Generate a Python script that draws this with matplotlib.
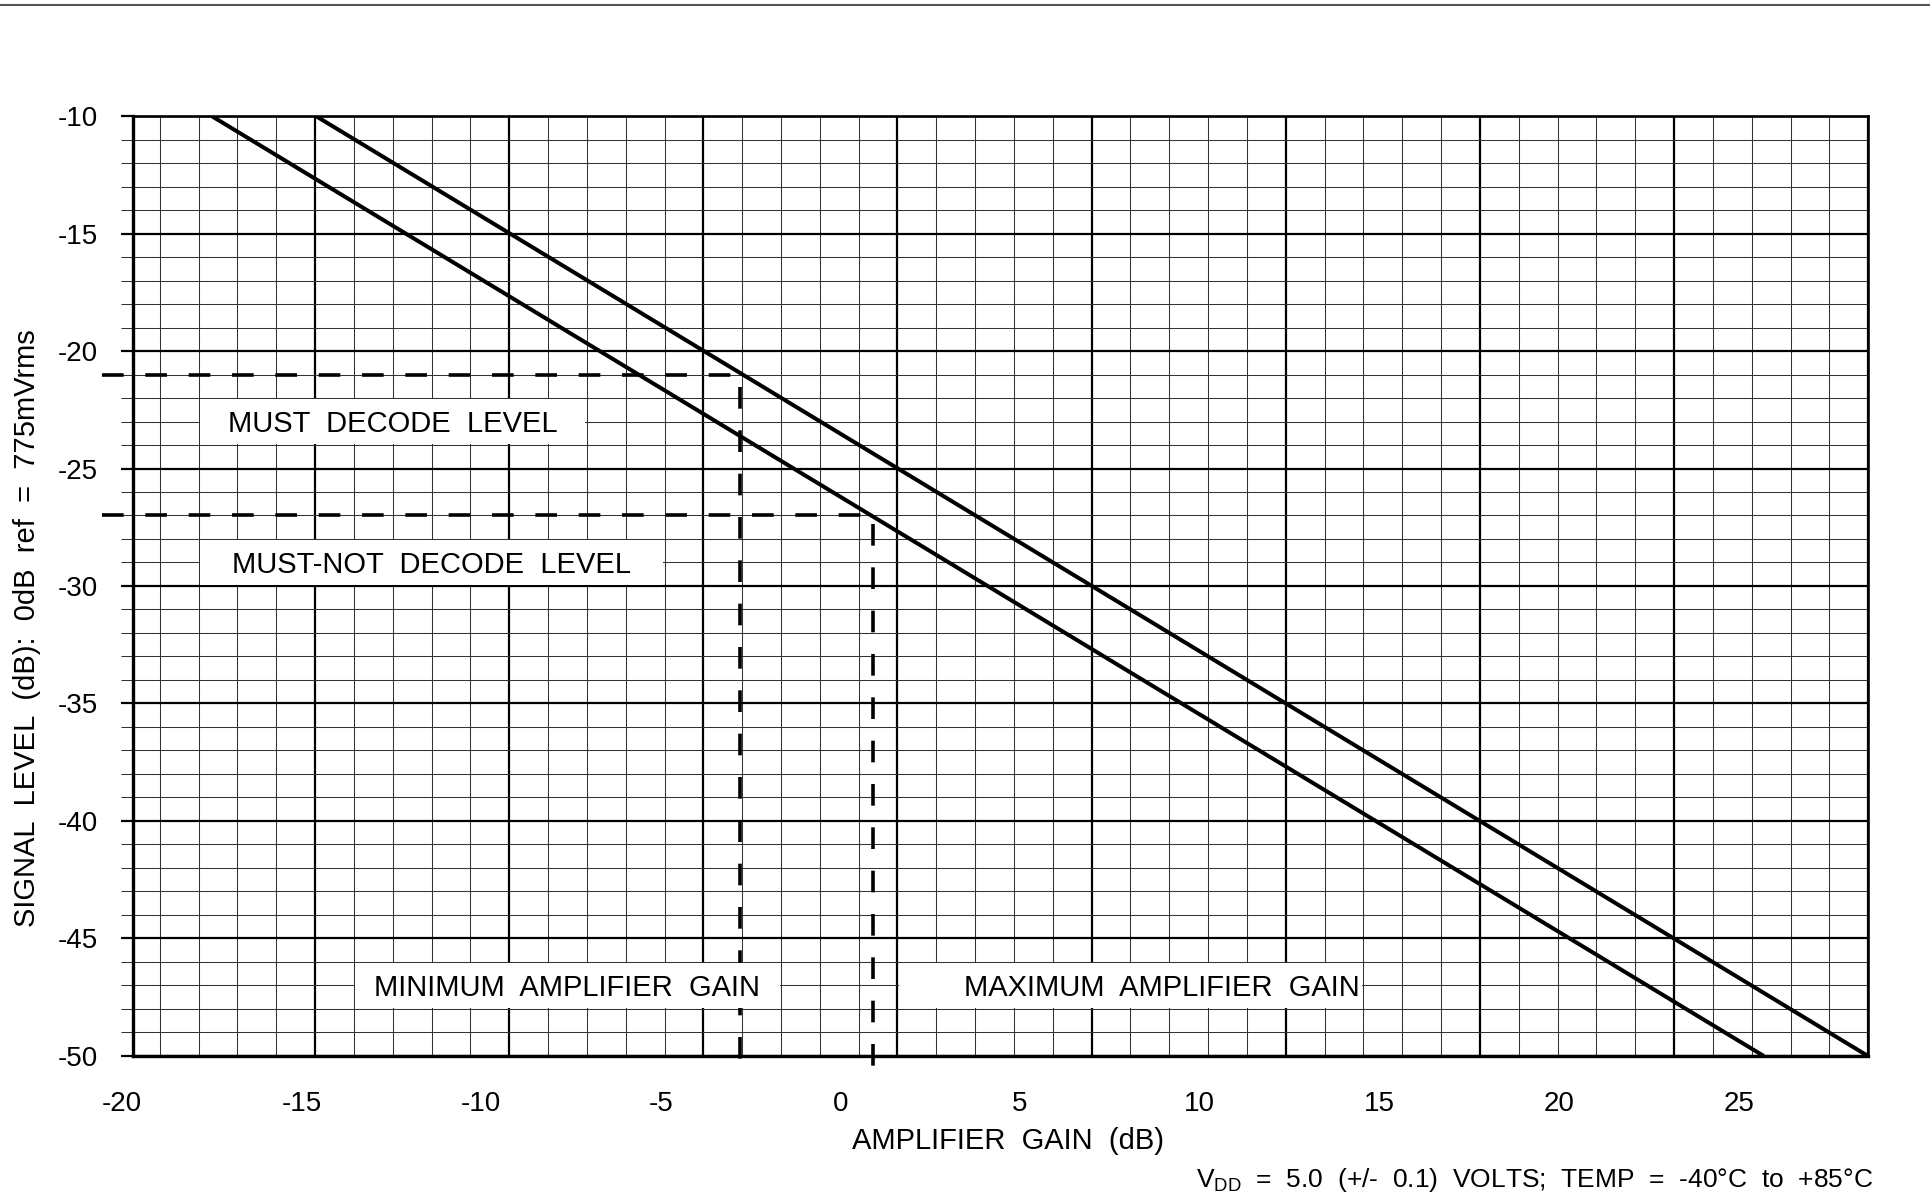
import numpy as np
import matplotlib
matplotlib.use("Agg")
import matplotlib.pyplot as plt
from matplotlib.lines import Line2D
from matplotlib.patches import Rectangle

plt.rcParams['font.family'] = ['Liberation Sans', 'DejaVu Sans']
plt.rcParams['axes.unicode_minus'] = False
plt.rcParams['mathtext.fontset'] = 'custom'
plt.rcParams['mathtext.rm'] = 'Liberation Sans'

# Values (gain in dB as printed on the x axis)
gain_ticks = [-20, -15, -10, -5, 0, 5, 10, 15, 20, 25]
level_ticks = [-10, -15, -20, -25, -30, -35, -40, -45, -50]

upper_gain = [-14.6, 28.6]
upper_level = [-10, -50]
lower_gain = [-17.5, 25.7]
lower_level = [-10, -50]

must_decode = -21
must_not_decode = -27
min_gain = -2.8
max_gain = 0.9

# the printed grid has its own pitch, it does not line up with the labels
grid_first_major = -14.62
grid_step = 1.0807
x_min, x_max = -19.69, 28.61
y_min, y_max = -50, -10

# text boxes: label, grid cell from / to (counted from first major), level top / bottom
boxes = [
    ("MUST  DECODE  LEVEL", -3, 7, -22, -24, 'center'),
    ("MUST-NOT  DECODE  LEVEL", -3, 9, -28, -30, 'center'),
    ("MINIMUM  AMPLIFIER  GAIN", 1, 12, -46, -48, 'center'),
    ("MAXIMUM  AMPLIFIER  GAIN", 15, 27, -46, -48, 'right'),
]

fig = plt.figure(figsize=(19.3, 11.99), dpi=100)
ax = fig.add_axes([0.06886, 0.11927, 0.89917, 0.78398])
ax.set_xlim(x_min, x_max)
ax.set_ylim(y_min, y_max)

# grid
k = np.arange(-4, 41)
ax.set_xticks(grid_first_major + grid_step * k[k % 5 == 0])
ax.set_xticks(grid_first_major + grid_step * k, minor=True)
ax.tick_params(axis='x', which='both', length=0, labelbottom=False)
ax.set_yticks(level_ticks, labels=[str(v) for v in level_ticks])
ax.set_yticks(np.arange(-50, -9, 1), minor=True)
ax.tick_params(axis='y', which='both', direction='out', length=9, pad=16,
               labelsize=20)
ax.tick_params(axis='y', which='major', width=1.6, color='black')
ax.tick_params(axis='y', which='minor', width=0.75, color='#333333')
ax.grid(which='major', color='black', lw=1.6)
ax.grid(which='minor', color='#333333', lw=0.75)

# gain labels (the -20 one sits just left of the frame)
for g in gain_ticks:
    ax.text(g, -0.0369, str(g), transform=ax.get_xaxis_transform(),
            ha='center', va='top', fontsize=20)

for side in ['left', 'bottom']:
    ax.spines[side].set_linewidth(2.4)
for side in ['top', 'right']:
    ax.spines[side].set_linewidth(1.9)
for s in ax.spines.values():
    s.set_zorder(2.5)

# levels and amplifier gain limits
dash_left = -20.55
dash_bottom = -51.0
ax.plot([dash_left, min_gain, min_gain], [must_decode, must_decode, dash_bottom],
        color='black', lw=2.6, dashes=(6, 6), clip_on=False, zorder=1.8)
ax.plot([dash_left, max_gain, max_gain], [must_not_decode, must_not_decode, dash_bottom],
        color='black', lw=2.6, dashes=(6, 6), clip_on=False, zorder=1.8)

# the two limit lines
ax.plot(upper_gain, upper_level, color='black', lw=2.9, solid_capstyle='butt', zorder=3)
ax.plot(lower_gain, lower_level, color='black', lw=2.9, solid_capstyle='butt', zorder=3)

# white label boxes cut out of the grid
cap_half = 0.45
for label, c0, c1, top, bot, ha in boxes:
    x0 = grid_first_major + grid_step * c0
    x1 = grid_first_major + grid_step * c1
    ax.add_patch(Rectangle((x0 + 0.04, bot + 0.05), x1 - x0 - 0.08, top - bot - 0.1,
                           facecolor='white', edgecolor='none', zorder=2))
    yc = (top + bot) / 2 - cap_half
    if ha == 'right':
        ax.text(x1 - 0.1, yc, label, ha='right', va='baseline', fontsize=21, zorder=4)
    else:
        ax.text((x0 + x1) / 2, yc, label, ha='center', va='baseline', fontsize=21, zorder=4)

fig.text(27 / 1930, 1 - 628 / 1199, "SIGNAL  LEVEL  (dB):  0dB  ref  =  775mVrms",
         rotation=90, ha='center', va='center', fontsize=21)
fig.text(1008 / 1930, 1 - 1141 / 1199, "AMPLIFIER  GAIN  (dB)",
         ha='center', va='center', fontsize=21)
fig.text(1873 / 1930, 1 - 1187 / 1199,
         r"V$_{\rm DD}$  =  5.0  (+/-  0.1)  VOLTS;  TEMP  =  -40°C  to  +85°C",
         ha='right', va='baseline', fontsize=19)

fig.add_artist(Line2D([0, 1], [0.9958, 0.9958], color='#555555', lw=1.5,
                      transform=fig.transFigure))

fig.savefig("out.png", dpi=100)
